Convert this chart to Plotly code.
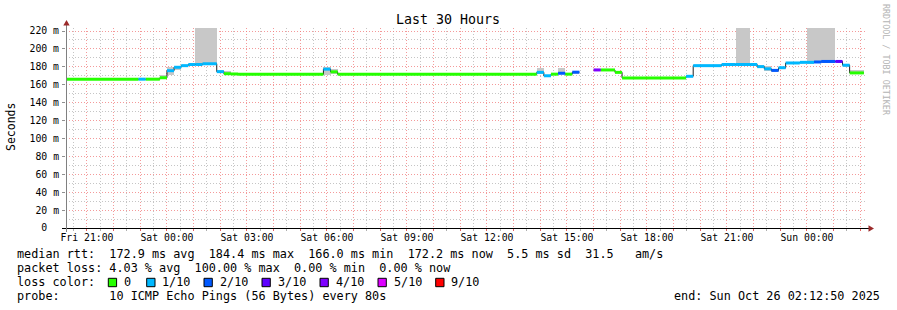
import plotly.graph_objects as go
import pandas as pd

# ---------------- data ----------------
seg_start = [
    "2025-10-24 20:00", "2025-10-24 22:56", "2025-10-24 23:12", "2025-10-24 23:44",
    "2025-10-25 00:00", "2025-10-25 00:16", "2025-10-25 00:32", "2025-10-25 00:48",
    "2025-10-25 01:04", "2025-10-25 01:20", "2025-10-25 01:52", "2025-10-25 02:08",
    "2025-10-25 02:24", "2025-10-25 02:40", "2025-10-25 05:52", "2025-10-25 06:08",
    "2025-10-25 06:24", "2025-10-25 13:52", "2025-10-25 14:08", "2025-10-25 14:24",
    "2025-10-25 14:40", "2025-10-25 14:56", "2025-10-25 15:12", "2025-10-25 15:28",
    "2025-10-25 16:00", "2025-10-25 16:16", "2025-10-25 16:48", "2025-10-25 17:04",
    "2025-10-25 19:28", "2025-10-25 19:44", "2025-10-25 20:48", "2025-10-25 21:20",
    "2025-10-25 21:52", "2025-10-25 22:08", "2025-10-25 22:24", "2025-10-25 22:40",
    "2025-10-25 22:56", "2025-10-25 23:12", "2025-10-25 23:44", "2025-10-26 00:00",
    "2025-10-26 00:16", "2025-10-26 00:32", "2025-10-26 01:04", "2025-10-26 01:20",
    "2025-10-26 01:36",
]
seg_end = seg_start[1:] + ["2025-10-26 02:08"]
median_ms = [
    166.2, 166.2, 166.2, 167.8,
    175.7, 179.5, 181.3, 182.6,
    182.6, 183.4, 174.6, 172.3,
    172.0, 171.7, 177.4, 174.4,
    171.6, 173.8, 170.0, 171.8,
    172.8, 171.8, 174.0, None,
    176.5, 176.5, 173.8, 167.6,
    169.4, 181.3, 182.6, 182.6,
    182.6, 180.2, 177.8, 176.0,
    179.0, 184.3, 185.0, 185.0,
    185.4, 186.0, 186.0, 181.8,
    173.2,
]
loss_of_10 = [
    0, 1, 0, 0,
    1, 1, 1, 1,
    1, 1, 1, 0,
    0, 0, 1, 0,
    0, 1, 1, 0,
    2, 0, 2, 10,
    4, 0, 0, 0,
    1, 1, 1, 1,
    1, 1, 1, 2,
    1, 1, 1, 1,
    2, 2, 3, 1,
    0,
]
smoke_lo = [
    None, None, None, 167.0,
    170.5, 176.5, None, None,
    181.5, 182.0, 173.0, 172.0,
    None, None, 171.0, 172.0,
    None, 171.5, None, None,
    172.0, None, 171.5, None,
    None, None, None, None,
    None, None, None, 181.5,
    None, 179.0, 175.5, 174.5,
    177.5, None, None, 183.5,
    184.0, 184.5, None, 179.5,
    172.5,
]
smoke_hi = [
    None, None, None, 170.5,
    180.0, 181.0, None, None,
    240.0, 240.0, 176.0, 175.5,
    None, None, 179.5, 177.5,
    None, 178.5, None, None,
    178.5, None, 174.5, None,
    None, None, None, None,
    None, None, None, 240.0,
    None, 181.5, 180.5, 178.0,
    180.0, None, None, 240.0,
    240.0, 240.0, None, 183.5,
    176.8,
]

loss_levels = [0, 1, 2, 3, 4, 5, 9]
loss_labels = ["0", "1/10", "2/10", "3/10", "4/10", "5/10", "9/10"]
loss_colors = ["#26ff00", "#00b8ff", "#0059ff", "#5e00ff", "#7e00ff", "#dd00ff", "#ff0000"]

y_tick_values = [0, 20, 40, 60, 80, 100, 120, 140, 160, 180, 200, 220]
y_tick_labels = ["0  ", "20 m", "40 m", "60 m", "80 m", "100 m", "120 m", "140 m",
                 "160 m", "180 m", "200 m", "220 m"]
x_label_times = ["2025-10-24 21:00", "2025-10-25 00:00", "2025-10-25 03:00",
                 "2025-10-25 06:00", "2025-10-25 09:00", "2025-10-25 12:00",
                 "2025-10-25 15:00", "2025-10-25 18:00", "2025-10-25 21:00",
                 "2025-10-26 00:00"]
x_label_texts = ["Fri 21:00", "Sat 00:00", "Sat 03:00", "Sat 06:00", "Sat 09:00",
                 "Sat 12:00", "Sat 15:00", "Sat 18:00", "Sat 21:00", "Sun 00:00"]

title_text = "Last 30 Hours"
y_title = "Seconds"
stat_lines = [
    "median rtt:  172.9 ms avg  184.4 ms max  166.0 ms min  172.2 ms now  5.5 ms sd  31.5   am/s",
    "packet loss: 4.03 % avg  100.00 % max  0.00 % min  0.00 % now",
]
probe_line = "probe:       10 ICMP Echo Pings (56 Bytes) every 80s"
end_line = "end: Sun Oct 26 02:12:50 2025"
watermark = "RRDTOOL / TOBI OETIKER"

x_start = "2025-10-24 20:12:50"
x_end = "2025-10-26 02:12:50"
y_top = 223.35

# ---------------- geometry helpers ----------------
W, H = 897, 310
L, R, T, B = 66, 31, 28, 82
PW, PH = W - L - R, H - T - B
FONT = "DejaVu Sans Mono"
FS = 11.8
TICK_FS = 9.8


def px(xp):
    return (xp - L) / PW


def py(yp):
    return (T + PH - yp) / PH


def nb(s):
    return s.replace(" ", "\u00a0")


fig = go.Figure()

# smoke
starts = pd.to_datetime(seg_start)
ends = pd.to_datetime(seg_end)
sx, sb, sh, sw = [], [], [], []
for s, e, lo, hi in zip(starts, ends, smoke_lo, smoke_hi):
    if lo is None:
        continue
    sx.append(s + (e - s) / 2)
    sb.append(lo)
    sh.append(hi - lo)
    sw.append((e - s).total_seconds() * 1000)
fig.add_trace(go.Bar(x=sx, y=sh, base=sb, width=sw, marker=dict(color="#c8c8c8", line=dict(width=0)),
                     showlegend=False, hoverinfo="skip"))

# dark median line
lx, ly = [], []
for s, e, m in zip(seg_start, seg_end, median_ms):
    lx += [s, e]
    ly += [m, m]
fig.add_trace(go.Scatter(x=lx, y=ly, mode="lines", line=dict(color="#202020", width=1),
                         connectgaps=False, showlegend=False, hoverinfo="skip"))

# loss-coloured median bands
for lev, col in zip(loss_levels, loss_colors):
    cx, cy = [], []
    for s, e, m, l in zip(seg_start, seg_end, median_ms, loss_of_10):
        if m is None or l != lev:
            continue
        cx += [s, e, None]
        cy += [m, m, None]
    if cx:
        fig.add_trace(go.Scatter(x=cx, y=cy, mode="lines", line=dict(color=col, width=3),
                                 showlegend=False, hoverinfo="skip"))

# axes
hours = pd.date_range("2025-10-24 21:00", "2025-10-26 02:00", freq="h")
label_map = dict(zip(pd.to_datetime(x_label_times), x_label_texts))
hour_text = [label_map.get(h, "") for h in hours]

red_grid = "rgba(240,120,120,0.75)"
gray_grid = "rgba(150,150,150,0.55)"
dash = "1px,2px"

fig.update_xaxes(
    type="date", range=[x_start, x_end], tickvals=list(hours), ticktext=hour_text,
    showgrid=True, gridcolor=red_grid, gridwidth=1, griddash=dash,
    ticks="outside", ticklen=2, tickcolor="#e06060", tickwidth=1, ticklabelstandoff=-2,
    tickfont=dict(family=FONT, size=TICK_FS, color="#000000"),
    showline=False, zeroline=False, fixedrange=True,
    minor=dict(tick0="2025-10-24 20:30", dtick=3600000, showgrid=True, gridcolor=gray_grid,
               griddash=dash, gridwidth=1, ticks="outside", ticklen=2, tickcolor="#b0b0b0"),
)
fig.update_yaxes(
    range=[0, y_top], tickvals=y_tick_values, ticktext=[nb(t) for t in y_tick_labels],
    showgrid=True, gridcolor=red_grid, gridwidth=1, griddash=dash,
    ticks="outside", ticklen=3, tickcolor="#909090", ticklabelstandoff=1,
    tickfont=dict(family=FONT, size=TICK_FS, color="#000000"),
    showline=False, zeroline=False, fixedrange=True,
    minor=dict(tick0=10, dtick=20, showgrid=True, gridcolor=gray_grid, griddash=dash, gridwidth=1),
)

shapes = []
# axis lines
shapes.append(dict(type="line", xref="paper", yref="paper", x0=px(62), x1=px(869), y0=py(228.5), y1=py(228.5),
                   line=dict(color="#000000", width=1)))
shapes.append(dict(type="line", xref="paper", yref="paper", x0=px(66.5), x1=px(66.5), y0=py(232), y1=py(24),
                   line=dict(color="#808080", width=1)))
# arrows
shapes.append(dict(type="path", xref="paper", yref="paper",
                   path=f"M {px(63.3)} {py(25.5)} L {px(69.7)} {py(25.5)} L {px(66.5)} {py(20)} Z",
                   fillcolor="#9b2a2a", line=dict(width=0)))
shapes.append(dict(type="path", xref="paper", yref="paper",
                   path=f"M {px(868.5)} {py(225.3)} L {px(868.5)} {py(231.7)} L {px(874)} {py(228.5)} Z",
                   fillcolor="#9b2a2a", line=dict(width=0)))

annotations = []


def add_text(text, xp, yp, anchor="left", size=FS, color="#000000", angle=0):
    annotations.append(dict(text=nb(text), xref="paper", yref="paper", x=px(xp), y=py(yp),
                            xanchor=anchor, yanchor="middle", showarrow=False, borderpad=0,
                            textangle=angle, font=dict(family=FONT, size=size, color=color)))


add_text(title_text, 448, 19, anchor="center", size=13.3)
add_text(y_title, 11, 127, anchor="center", size=11.5, angle=-90)
add_text(watermark, 886, 60, anchor="center", size=8.4, color="#b4b4b4", angle=90)
add_text(stat_lines[0], 16, 254.3)
add_text(stat_lines[1], 16, 268.3)
add_text("loss color:", 16, 282.3)
box_x = [108.3, 146.7, 204.0, 262.0, 320.0, 378.0, 435.7]
for bx, lab, col in zip(box_x, loss_labels, loss_colors):
    shapes.append(dict(type="rect", xref="paper", yref="paper", x0=px(bx), x1=px(bx + 8.3),
                       y0=py(286.7), y1=py(278.3), fillcolor=col, line=dict(color="#000000", width=1)))
    add_text(lab, bx + 14.5, 282.3)
add_text(probe_line, 16, 296.3)
add_text(end_line, 880.5, 296.3, anchor="right")

fig.update_layout(
    width=W, height=H, autosize=False,
    margin=dict(l=L, r=R, t=T, b=B, pad=0),
    paper_bgcolor="#ffffff", plot_bgcolor="#ffffff",
    showlegend=False, shapes=shapes, annotations=annotations,
    bargap=0,
)

fig.write_html("out.html", config={"displayModeBar": False})
